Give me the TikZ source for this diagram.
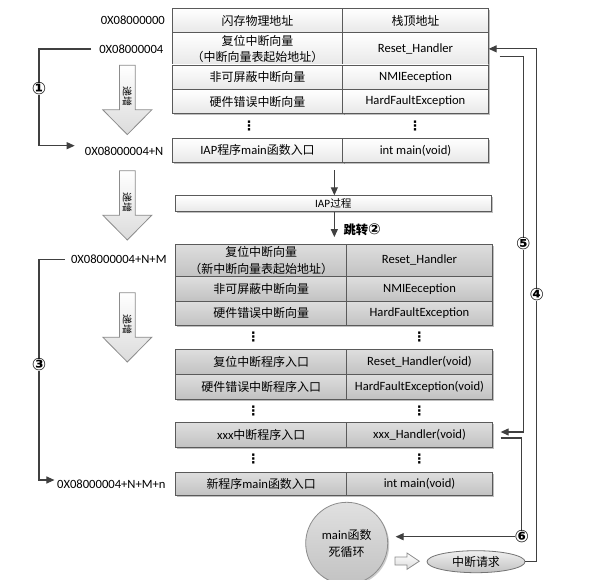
\documentclass[tikz,border=0pt]{standalone}
\usepackage{fontspec}
\setmainfont{Carlito}
\newfontfamily\cjk[Scale=0.95]{Noto Sans CJK SC}
\newfontfamily\symf{DejaVu Sans}
\usetikzlibrary{shadows,arrows.meta,calc,shapes.geometric}
\newcommand\zhs[1]{{\cjk #1}}
\definecolor{bordc}{HTML}{5A5A5A}
\definecolor{connc}{HTML}{404040}
\begin{document}
\begin{tikzpicture}[x=1pt,y=-1pt,
  font=\fontsize{12.6}{16.5}\selectfont,
  cellT/.style={draw=bordc, line width=0.8pt, top color=white, bottom color=black!9,
    drop shadow={shadow xshift=1.5pt, shadow yshift=-1.5pt, fill=black, opacity=0.25},
    inner sep=0pt, align=center},
  cellG/.style={cellT, top color=black!13, bottom color=black!24},
  colL/.style={minimum width=171pt},
  colR/.style={minimum width=145.5pt},
  addr/.style={inner sep=0pt, anchor=east},
  vdots/.style={inner sep=0pt, font=\fontsize{13}{13}\selectfont\symf\bfseries},
  conn/.style={draw=connc, line width=1.1pt},
  arr/.style={conn, -{Triangle[length=8pt,width=7pt]}},
  cnumst/.style={fill=white, inner sep=0pt, font=\fontsize{17}{17}\selectfont\symf\bfseries},
  blockarr/.style={draw=black!45, line width=0.8pt, top color=white, bottom color=black!14},
  incarrow/.pic={
    \path[blockarr] (-7.85,0) -- (7.85,0) -- (7.85,44.5) -- (24.5,44.5) -- (0,69.3)
      -- (-24.5,44.5) -- (-7.85,44.5) -- cycle;
    \node[rotate=-90, inner sep=0pt, font=\fontsize{10.5}{10.5}\selectfont\cjk] (-t) at (0,31.5) {递增};
  },
]
\useasboundingbox (0,0) rectangle (594,580);
\clip (0,0) rectangle (594,580);
\fill[white] (0,0) rectangle (594,580);

% ---------- top table ----------
\node[cellT,colL,minimum height=24.4pt] (a1) at (257.5,20.5) {\zhs{闪存物理地址}};
\node[cellT,colR,minimum height=24.4pt] (b1) at (415.5,20.5) {\zhs{栈顶地址}};
\node[cellT,colL,minimum height=32.3pt] (a2) at (257.5,48.85) {\zhs{复位中断向量}\\\zhs{（中断向量表起始地址）}};
\node[cellT,colR,minimum height=32.3pt] (b2) at (415.5,48.85) {Reset\_Handler};
\node[cellT,colL,minimum height=24.3pt] (a3) at (257.5,77.15) {\zhs{非可屏蔽中断向量}};
\node[cellT,colR,minimum height=24.3pt] (b3) at (415.5,77.15) {NMIEeception};
\node[cellT,colL,minimum height=24.4pt] (a4) at (257.5,101.5) {\zhs{硬件错误中断向量}};
\node[cellT,colR,minimum height=24.4pt] (b4) at (415.5,101.5) {HardFaultException};
\node[vdots] (d1a) at (249,126) {⋮};
\node[vdots] (d1b) at (415,126) {⋮};
\node[cellT,colL,minimum height=24pt] (a5) at (257.5,150.3) {IAP\zhs{程序}main\zhs{函数入口}};
\node[cellT,colR,minimum height=24pt] (b5) at (415.5,150.3) {int main(void)};

% ---------- IAP process ----------
\node[cellT,minimum width=316.7pt,minimum height=16pt,font=\fontsize{11.2}{12}\selectfont] (iap) at (333.35,203.7) {IAP\zhs{过程}};
\draw[arr] ($(iap.north)+(1,-25)$) -- ($(iap.north)+(1,0)$);
\draw[arr] ($(iap.south)+(1,0)$) -- ($(iap.south)+(1,25)$);
\node[anchor=west, inner sep=0pt, font=\fontsize{13}{13}\selectfont\bfseries] (jump) at (343.3,229.5) {{\cjk 跳转}{\symf\fontsize{15}{15}\selectfont ②}};

% ---------- lower table ----------
\node[cellG,colL,minimum height=32.7pt] (g1a) at (261.2,260.35) {\zhs{复位中断向量}\\\zhs{（新中断向量表起始地址）}};
\node[cellG,colR,minimum height=32.7pt] (g1b) at (419.5,260.35) {Reset\_Handler};
\node[cellG,colL,minimum height=24.3pt] (g2a) at (261.2,288.85) {\zhs{非可屏蔽中断向量}};
\node[cellG,colR,minimum height=24.3pt] (g2b) at (419.5,288.85) {NMIEeception};
\node[cellG,colL,minimum height=24.7pt] (g3a) at (261.2,313.35) {\zhs{硬件错误中断向量}};
\node[cellG,colR,minimum height=24.7pt] (g3b) at (419.5,313.35) {HardFaultException};
\node[vdots] (d2a) at (253.3,337) {⋮};
\node[vdots] (d2b) at (419.3,337) {⋮};
\node[cellG,colL,minimum height=25pt] (g4a) at (261.2,361.8) {\zhs{复位中断程序入口}};
\node[cellG,colR,minimum height=25pt] (g4b) at (419.5,361.8) {Reset\_Handler(void)};
\node[cellG,colL,minimum height=24.7pt] (g5a) at (261.2,386.65) {\zhs{硬件错误中断程序入口}};
\node[cellG,colR,minimum height=24.7pt] (g5b) at (419.5,386.65) {HardFaultException(void)};
\node[vdots] (d3a) at (253.3,411) {⋮};
\node[vdots] (d3b) at (419.3,411) {⋮};
\node[cellG,colL,minimum height=24.6pt] (xa) at (261.2,435) {xxx\zhs{中断程序入口}};
\node[cellG,colR,minimum height=24.6pt] (xh) at (419.5,435) {xxx\_Handler(void)};
\node[vdots] (d4a) at (253.3,459) {⋮};
\node[vdots] (d4b) at (419.3,459) {⋮};
\node[cellG,colL,minimum height=23pt] (g7a) at (261.2,484.2) {\zhs{新程序}main\zhs{函数入口}};
\node[cellG,colR,minimum height=23pt] (g7b) at (419.5,484.2) {int main(void)};

% ---------- address labels ----------
\node[addr] (addr0) at (165,20) {0X08000000};
\node[addr] (addr1) at (163.5,49) {0X08000004};
\node[addr] (addrN) at (163.5,151) {0X08000004+N};
\node[addr] (addrNM) at (166.7,259.3) {0X08000004+N+M};
\node[addr] (addrNMn) at (165.7,484) {0X08000004+N+M+n};

% ---------- increment arrows ----------
\pic (ar1) at (127.3,65.3) {incarrow};
\pic (ar2) at (127.3,170.7) {incarrow};
\pic (ar3) at (127.3,292.7) {incarrow};

% ---------- bottom: main loop and interrupt ----------
\node[circle, draw=black!45, line width=0.8pt, minimum size=82pt, inner sep=0pt,
  top color=black!12, bottom color=black!24, align=center,
  drop shadow={shadow xshift=1.5pt, shadow yshift=-1.5pt, fill=black, opacity=0.2}]
  (mainc) at (346.7,543.3) {main\zhs{函数}\\\zhs{死循环}};
\node[ellipse, draw=black!55, line width=0.8pt, minimum width=98pt, minimum height=22pt, inner sep=0pt,
  top color=black!6, bottom color=black!24] (irq) at (476,561.7) {\zhs{中断请求}};
\path[blockarr] (395,557) -- (407,557) -- (407,553) -- (419.3,561.2) -- (407,569.3) -- (407,565) -- (395,565) -- cycle;

% ---------- connectors ----------
\coordinate (n1c) at (39,89);
\coordinate (n3c) at (39,365);
\coordinate (n4c) at (536.7,295);
\coordinate (n5c) at (523.3,244);
\coordinate (n6c) at (521.7,536.7);
\draw[arr] ($(addr1.west)+(-8,0)$) -| (n1c) |- ($(addrN.west)+(-10,-5.3)$);
\draw[arr] ($(addrNM.west)+(-6,0)$) -| (n3c) |- ($(addrNMn.west)+(-2.5,-4)$);
\draw[arr] (irq.east) -| (n4c) |- (b2.east);
\draw[arr] ($(b2.east)+(11,8)$) -| (n5c) |- ($(xh.east)+(8,-3)$);
\draw[arr] ($(xh.east)+(8,3)$) -| (n6c) -- ($(mainc.east)+(7.5,-6.6)$);

\node[cnumst] (n1) at (n1c) {①};
\node[cnumst] (n3) at (n3c) {③};
\node[cnumst] (n4) at (n4c) {④};
\node[cnumst] (n5) at (n5c) {⑤};
\node[cnumst] (n6) at (n6c) {⑥};
\end{tikzpicture}
\end{document}
